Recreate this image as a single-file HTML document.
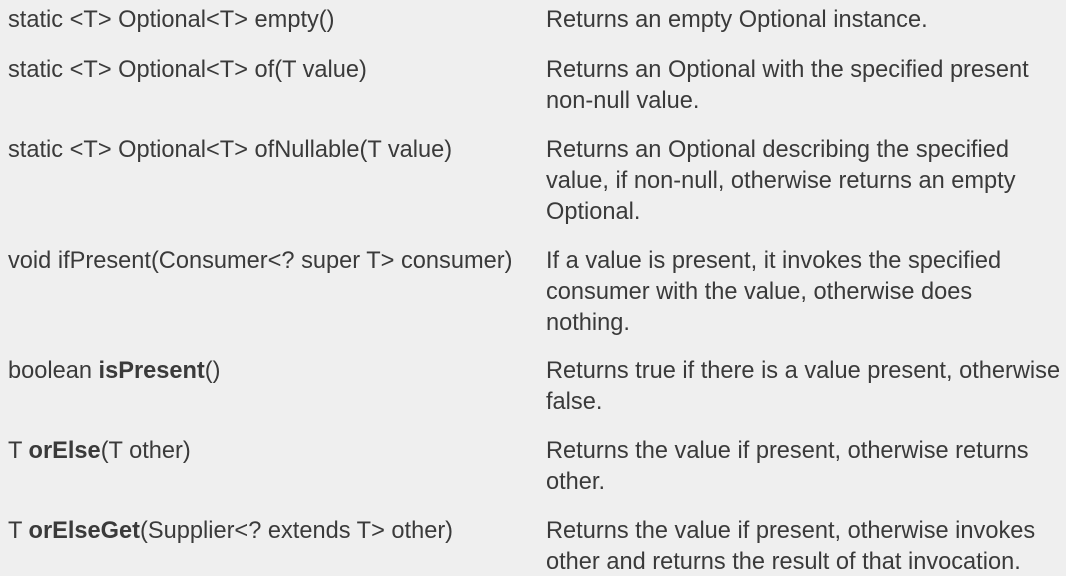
<!DOCTYPE html>
<html><head><meta charset="utf-8"><style>
html,body{margin:0;padding:0;}
body{width:1066px;height:576px;background:#efefef;position:relative;overflow:hidden;font-family:"Liberation Sans",sans-serif;font-size:23.6px;color:#3a3a3a;}
div{position:absolute;white-space:nowrap;line-height:24px;}
.l{left:8px}.r{left:546px}
</style></head><body>
<div class="l" style="top:8px">static &lt;T&gt; Optional&lt;T&gt; empty()</div>
<div class="r" style="top:8px">Returns an empty Optional instance.</div>
<div class="l" style="top:58px">static &lt;T&gt; Optional&lt;T&gt; of(T value)</div>
<div class="r" style="top:58px">Returns an Optional with the specified present</div>
<div class="r" style="top:89px">non-null value.</div>
<div class="l" style="top:138px">static &lt;T&gt; Optional&lt;T&gt; ofNullable(T value)</div>
<div class="r" style="top:138px">Returns an Optional describing the specified</div>
<div class="r" style="top:169px">value, if non-null, otherwise returns an empty</div>
<div class="r" style="top:200px">Optional.</div>
<div class="l" style="top:249px">void ifPresent(Consumer&lt;? super T&gt; consumer)</div>
<div class="r" style="top:249px">If a value is present, it invokes the specified</div>
<div class="r" style="top:280px">consumer with the value, otherwise does</div>
<div class="r" style="top:311px">nothing.</div>
<div class="l" style="top:359px">boolean <b>isPresent</b>()</div>
<div class="r" style="top:359px">Returns true if there is a value present, otherwise</div>
<div class="r" style="top:390px">false.</div>
<div class="l" style="top:439px">T <b>orElse</b>(T other)</div>
<div class="r" style="top:439px">Returns the value if present, otherwise returns</div>
<div class="r" style="top:470px">other.</div>
<div class="l" style="top:519px">T <b>orElseGet</b>(Supplier&lt;? extends T&gt; other)</div>
<div class="r" style="top:519px">Returns the value if present, otherwise invokes</div>
<div class="r" style="top:550px">other and returns the result of that invocation.</div>
</body></html>
